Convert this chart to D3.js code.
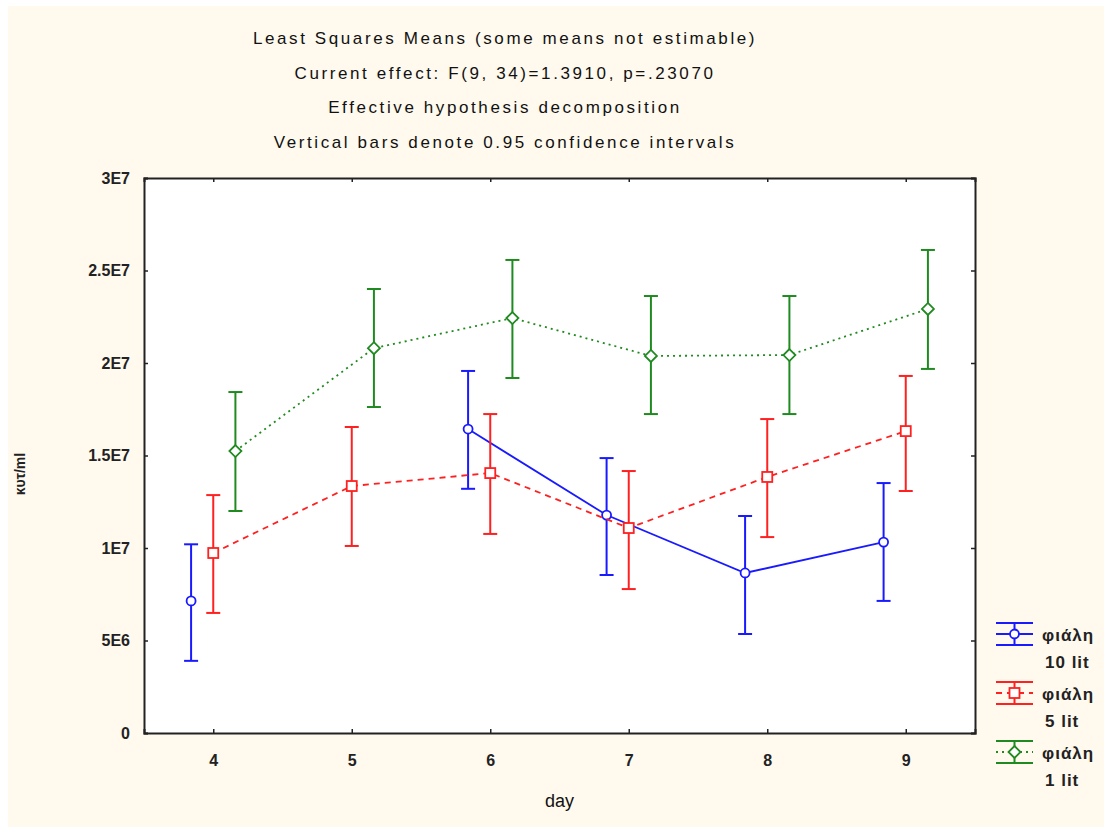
<!DOCTYPE html>
<html>
<head>
<meta charset="utf-8">
<script src="https://cdn.jsdelivr.net/npm/d3@7"></script>
<style>
  body { margin: 0; background: #fff; }
  svg { display: block; font-family: "Liberation Sans", Arial, sans-serif; }
</style>
</head>
<body>
<svg id="chart" width="1104" height="827"></svg>
<script>
// data
const days = [4, 5, 6, 7, 8, 9];
const yTicks = [0, 5e6, 1e7, 1.5e7, 2e7, 2.5e7, 3e7];
const yTickLabels = ['0', '5E6', '1E7', '1.5E7', '2E7', '2.5E7', '3E7'];

// φιάλη 10 lit (no estimate for day 5)
const mean10 = [7.14e6, null, 1.643e7, 1.178e7, 8.65e6, 1.032e7];
const low10  = [3.9e6,  null, 1.32e7,  8.54e6,  5.35e6, 7.14e6];
const high10 = [1.02e7, null, 1.957e7, 1.486e7, 1.173e7, 1.351e7];

// φιάλη 5 lit
const mean5 = [9.73e6, 1.335e7, 1.405e7, 1.108e7, 1.384e7, 1.632e7];
const low5  = [6.49e6, 1.011e7, 1.076e7, 7.78e6,  1.059e7, 1.308e7];
const high5 = [1.286e7, 1.654e7, 1.724e7, 1.416e7, 1.697e7, 1.93e7];

// φιάλη 1 lit
const mean1 = [1.524e7, 2.08e7, 2.243e7, 2.038e7, 2.043e7, 2.292e7];
const low1  = [1.2e7,   1.762e7, 1.919e7, 1.724e7, 1.724e7, 1.968e7];
const high1 = [1.843e7, 2.4e7,  2.557e7, 2.362e7, 2.362e7, 2.611e7];

const titleLines = [
  'Least Squares Means (some means not estimable)',
  'Current effect: F(9, 34)=1.3910, p=.23070',
  'Effective hypothesis decomposition',
  'Vertical bars denote 0.95 confidence intervals'
];

const series = [
  {name: 'φιάλη', sub: '10 lit', color: '#1a1aff', dash: null, marker: 'circle', offset: -0.16, mean: mean10, low: low10, high: high10},
  {name: 'φιάλη', sub: '5 lit', color: '#ff2020', dash: '6,5', marker: 'square', offset: 0, mean: mean5, low: low5, high: high5},
  {name: 'φιάλη', sub: '1 lit', color: '#1f8a1f', dash: '2,4', marker: 'diamond', offset: 0.16, mean: mean1, low: low1, high: high1}
];

const svg = d3.select('#chart');
const margin = {top: 178, right: 129, bottom: 94, left: 144};
const width = 1104 - margin.left - margin.right;
const height = 827 - margin.top - margin.bottom;

// cream background
svg.append('rect')
  .attr('x', 8).attr('y', 6)
  .attr('width', 1096).attr('height', 821)
  .attr('fill', '#fff9ee');

// title
svg.append('g').selectAll('text')
  .data(titleLines)
  .enter().append('text')
  .attr('x', 505)
  .attr('y', (d, i) => 44 + i * 34.5)
  .attr('text-anchor', 'middle')
  .attr('font-size', 17)
  .attr('letter-spacing', 2.6)
  .attr('fill', '#111')
  .text(d => d);

const x = d3.scaleLinear().domain([3.5, 9.5]).range([0, width]);
const y = d3.scaleLinear().domain([0, 3e7]).range([height, 0]);

const g = svg.append('g')
  .attr('transform', 'translate(' + margin.left + ',' + margin.top + ')');

g.append('rect')
  .attr('width', width).attr('height', height)
  .attr('fill', '#fff');

// axes with inside ticks
const xAxis = d3.axisBottom(x).tickValues(days).tickSize(-4).tickPadding(22).tickFormat(d3.format('d'));
const yAxis = d3.axisLeft(y).tickValues(yTicks).tickSize(-4).tickPadding(14).tickFormat((d, i) => yTickLabels[i]);

g.append('g').attr('transform', 'translate(0,' + height + ')').call(xAxis);
g.append('g').call(yAxis);
g.append('g').call(d3.axisTop(x).tickValues(days).tickSize(-4).tickFormat(''));
g.append('g').attr('transform', 'translate(' + width + ',0)')
  .call(d3.axisRight(y).tickValues(yTicks).tickSize(-4).tickFormat(''));

g.selectAll('.domain').attr('stroke', '#222').attr('stroke-width', 2);
g.selectAll('.tick line').attr('stroke', '#222').attr('stroke-width', 1.5);
g.selectAll('.tick text').attr('font-size', 16).attr('font-weight', 'bold').attr('fill', '#222');

// axis titles
svg.append('text')
  .attr('x', margin.left + x(6.5))
  .attr('y', 807)
  .attr('text-anchor', 'middle')
  .attr('font-size', 18)
  .attr('fill', '#111')
  .text('day');

svg.append('text')
  .attr('transform', 'translate(25,' + (margin.top + y(1.4e7)) + ') rotate(-90)')
  .attr('text-anchor', 'middle')
  .attr('font-size', 14)
  .attr('font-weight', 'bold')
  .attr('fill', '#222')
  .text('κυτ/ml');

function drawMarker(sel, kind, color) {
  if (kind === 'circle') {
    sel.append('circle').attr('r', 4.5);
  } else if (kind === 'square') {
    sel.append('rect').attr('x', -5).attr('y', -5).attr('width', 10).attr('height', 10);
  } else {
    sel.append('path').attr('d', 'M0,-6L6,0L0,6L-6,0Z');
  }
  sel.selectAll('circle,rect,path')
    .attr('fill', '#fff').attr('stroke', color).attr('stroke-width', 1.8);
}

series.forEach(s => {
  const all = days.map((d, i) => ({day: d, m: s.mean[i], lo: s.low[i], hi: s.high[i]}));
  const pts = all.filter(p => p.m !== null);
  const px = p => x(p.day + s.offset);

  // gaps where a mean is not estimable
  const line = d3.line().defined(p => p.m !== null).x(px).y(p => y(p.m));
  g.append('path')
    .datum(all)
    .attr('d', line)
    .attr('fill', 'none')
    .attr('stroke', s.color)
    .attr('stroke-width', 1.8)
    .attr('stroke-dasharray', s.dash);

  const bars = g.append('g').selectAll('g')
    .data(pts).enter().append('g')
    .attr('stroke', s.color).attr('stroke-width', 2);
  bars.append('line').attr('x1', px).attr('x2', px).attr('y1', p => y(p.lo)).attr('y2', p => y(p.hi));
  bars.append('line').attr('x1', p => px(p) - 7).attr('x2', p => px(p) + 7).attr('y1', p => y(p.hi)).attr('y2', p => y(p.hi));
  bars.append('line').attr('x1', p => px(p) - 7).attr('x2', p => px(p) + 7).attr('y1', p => y(p.lo)).attr('y2', p => y(p.lo));

  const marks = g.append('g').selectAll('g')
    .data(pts).enter().append('g')
    .attr('transform', p => 'translate(' + px(p) + ',' + y(p.m) + ')');
  marks.each(function() { drawMarker(d3.select(this), s.marker, s.color); });
});

// legend
const legend = svg.append('g').selectAll('g')
  .data(series).enter().append('g')
  .attr('transform', (d, i) => 'translate(996,' + (634 + i * 59) + ')');

legend.each(function(s) {
  const lg = d3.select(this);
  lg.append('line').attr('x1', 0).attr('x2', 37).attr('y1', -11).attr('y2', -11)
    .attr('stroke', s.color).attr('stroke-width', 2);
  lg.append('line').attr('x1', 0).attr('x2', 37).attr('y1', 11).attr('y2', 11)
    .attr('stroke', s.color).attr('stroke-width', 2);
  lg.append('line').attr('x1', 18.5).attr('x2', 18.5).attr('y1', -11).attr('y2', 11)
    .attr('stroke', s.color).attr('stroke-width', 2);
  lg.append('line').attr('x1', 0).attr('x2', 37).attr('y1', 0).attr('y2', 0)
    .attr('stroke', s.color).attr('stroke-width', 1.8).attr('stroke-dasharray', s.dash);
  const m = lg.append('g').attr('transform', 'translate(18.5,0)');
  drawMarker(m, s.marker, s.color);
  lg.append('text').attr('x', 46).attr('y', 7).attr('font-size', 17).attr('letter-spacing', 1).attr('font-weight', 'bold').attr('fill', '#222').text(s.name);
  lg.append('text').attr('x', 49).attr('y', 34).attr('font-size', 17).attr('letter-spacing', 1).attr('font-weight', 'bold').attr('fill', '#222').text(s.sub);
});
</script>
</body>
</html>
